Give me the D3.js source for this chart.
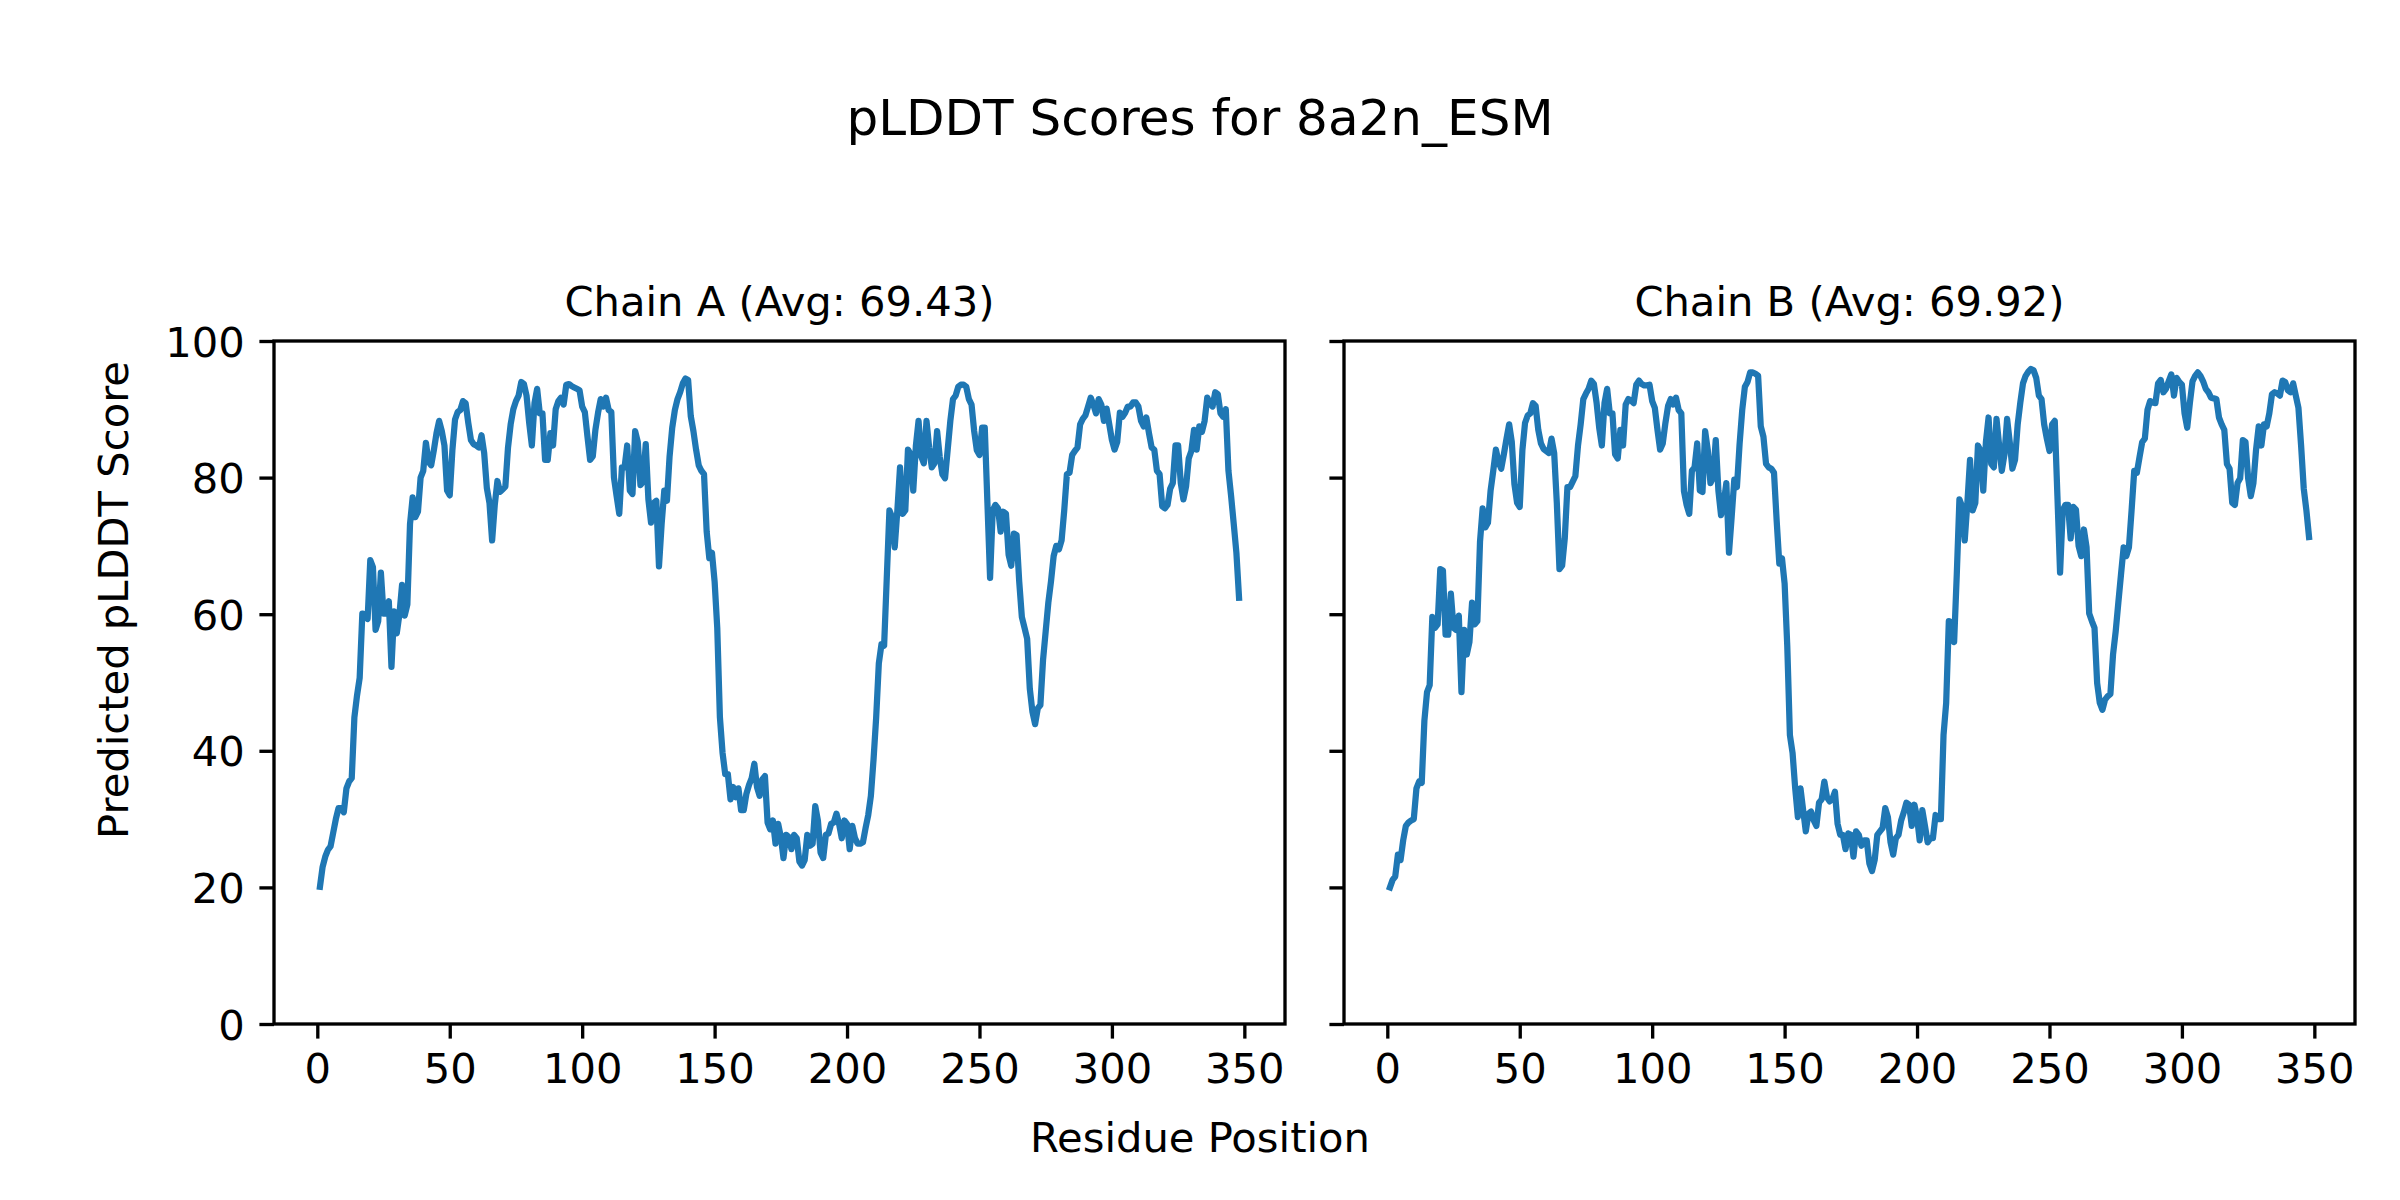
<!DOCTYPE html>
<html>
<head>
<meta charset="utf-8">
<script src="https://cdn.jsdelivr.net/npm/d3@7"></script>
<style>
  html, body { margin: 0; padding: 0; background: #fff; }
  svg text { font-family: "DejaVu Sans", sans-serif; fill: #000; }
</style>
</head>
<body>
<svg id="chart" width="2400" height="1200"></svg>
<script>
// ---- data ----
const chainA = [
20.1,23.0,24.5,25.5,26.0,28.0,30.0,31.6,31.6,31.0,
34.5,35.5,36.0,44.9,48.1,50.7,60.1,60.0,59.3,67.9,
66.9,57.7,59.0,66.1,60.1,60.1,61.9,52.3,60.4,57.2,
60.0,64.3,59.8,61.4,73.2,77.1,74.2,75.0,80.0,81.0,
85.1,82.3,81.8,84.0,86.5,88.3,86.8,84.7,78.1,77.4,
84.0,88.5,89.6,89.9,91.2,90.9,88.0,85.5,84.9,84.7,
84.4,86.2,83.6,78.5,76.3,70.8,76.0,79.5,77.9,78.3,
78.7,84.4,87.8,90.0,91.2,92.0,94.0,93.7,92.0,88.0,
84.7,90.9,93.0,89.4,89.4,82.6,82.6,86.5,84.7,90.0,
91.2,91.7,90.7,93.6,93.7,93.4,93.2,93.0,92.8,90.4,
89.6,86.0,82.6,83.1,87.0,89.5,91.5,90.4,91.7,89.9,
89.6,80.0,77.3,74.7,81.5,81.5,84.7,78.1,77.6,86.8,
85.2,78.9,79.4,84.9,76.8,73.4,76.3,76.6,67.0,73.2,
78.1,76.6,83.1,87.3,89.9,91.5,92.5,93.8,94.5,94.3,
89.0,86.8,84.1,81.8,81.0,80.5,72.1,68.2,69.0,64.8,
58.0,44.9,39.7,36.6,36.6,32.9,34.7,33.2,34.5,31.3,
31.3,33.7,35.0,36.0,38.1,34.7,33.4,35.8,36.3,29.5,
28.5,29.8,26.4,29.3,27.4,24.3,27.7,27.4,25.6,27.7,
27.2,23.8,23.2,24.0,27.7,26.1,26.4,31.9,29.8,25.1,
24.3,27.7,27.9,29.3,29.5,30.8,29.3,27.2,29.8,29.3,
25.6,29.0,27.2,26.4,26.4,26.6,28.7,30.6,33.4,38.7,
44.9,52.8,55.6,55.4,65.3,75.2,74.2,69.8,75.2,81.5,
74.7,75.2,84.1,83.4,78.1,84.7,88.3,83.1,82.1,88.3,
84.4,81.5,82.1,86.8,83.0,80.5,79.9,84.1,88.3,91.5,
92.0,93.3,93.6,93.6,93.3,91.5,90.7,86.8,84.0,83.3,
87.3,87.3,76.3,65.3,75.2,76.0,75.5,72.1,75.0,74.7,
68.7,67.1,71.8,71.6,64.8,59.6,58.0,56.4,49.1,45.7,
43.9,46.2,46.7,53.3,57.5,61.7,64.8,68.5,70.0,69.5,
70.8,75.2,80.5,80.7,83.3,83.9,84.4,87.8,88.6,89.1,
90.4,91.7,90.7,89.4,91.5,90.7,88.3,90.1,87.8,85.5,
84.1,85.2,89.5,88.9,89.5,90.4,90.4,91.0,91.0,90.4,
88.3,87.5,88.8,86.5,84.4,84.1,81.0,80.5,75.8,75.5,
76.0,78.4,79.2,84.7,84.7,79.2,76.8,78.7,82.8,83.9,
87.0,84.1,87.5,86.7,88.3,91.7,90.9,90.4,92.5,92.2,
89.4,88.9,90.0,81.0,77.3,73.2,69.0,62.4
];
const chainB = [
20.0,21.1,21.6,24.8,24.0,26.9,29.0,29.5,29.8,30.0,
34.5,35.5,35.3,44.4,48.6,49.6,59.6,58.0,58.5,66.6,
66.4,57.0,57.0,63.0,58.0,57.7,59.8,48.6,57.7,54.1,
55.9,61.7,58.5,59.0,70.6,75.5,72.7,73.4,78.1,81.0,
84.1,82.3,81.3,83.4,85.7,87.8,85.2,79.0,76.3,75.7,
84.0,88.0,89.1,89.4,90.9,90.5,87.0,85.0,84.2,83.9,
83.6,85.7,83.6,76.3,66.6,67.1,71.1,78.6,78.6,79.4,
80.2,84.7,87.8,91.5,92.3,93.0,94.2,93.7,91.0,87.3,
84.7,90.9,93.0,89.4,89.4,83.4,82.8,87.0,84.7,90.7,
91.5,91.3,90.9,93.6,94.2,93.7,93.5,93.5,93.6,91.2,
90.2,87.0,84.1,85.0,88.0,90.5,91.5,90.7,91.7,89.9,
89.4,78.0,76.0,74.7,81.0,81.5,85.0,78.1,77.9,86.8,
84.0,79.2,80.0,85.5,78.1,74.5,76.3,79.2,69.0,74.2,
79.7,78.6,84.9,89.9,93.3,94.0,95.4,95.4,95.2,94.9,
87.5,86.0,82.0,81.5,81.3,80.7,73.7,67.4,68.2,64.5,
55.4,42.3,39.7,34.5,30.3,34.5,31.3,28.2,30.8,31.1,
29.8,29.0,32.4,32.9,35.5,33.2,32.6,32.9,34.0,29.3,
27.7,27.7,25.6,27.9,27.7,24.5,28.2,27.7,26.1,26.9,
26.9,23.5,22.4,24.0,27.7,28.2,28.7,31.6,30.3,26.6,
24.8,27.2,27.7,29.8,31.0,32.4,32.1,29.0,32.1,30.3,
26.9,31.3,29.0,26.6,27.2,27.2,30.6,30.0,30.0,42.3,
47.0,59.0,58.8,55.9,65.8,76.8,75.8,70.8,76.3,82.6,
75.2,76.3,84.7,83.9,78.1,85.2,88.8,82.0,81.5,88.6,
84.7,81.0,83.4,88.6,85.2,81.3,82.6,87.8,91.0,93.8,
94.9,95.5,95.9,95.7,94.6,92.0,91.5,87.8,85.7,83.9,
87.8,88.3,77.3,66.1,75.2,76.0,76.0,71.1,75.7,75.3,
70.0,68.5,72.4,69.8,60.1,59.0,58.0,49.9,47.0,46.0,
47.5,48.0,48.3,54.1,57.5,61.7,65.8,69.8,68.5,69.8,
75.2,81.0,80.7,83.0,85.2,85.7,89.9,91.2,91.0,90.9,
93.8,94.3,92.5,93.0,94.1,95.1,92.0,94.6,94.0,93.6,
89.4,87.3,90.9,94.1,94.9,95.4,94.9,94.1,93.0,92.5,
91.7,91.6,91.5,88.8,87.8,87.0,82.0,81.3,76.3,76.0,
79.2,79.9,85.5,85.2,79.9,77.3,79.2,84.1,87.5,84.7,
87.8,87.5,89.4,92.2,92.5,92.3,92.0,94.2,94.0,92.8,
92.5,93.8,92.0,90.2,84.7,78.4,75.2,71.3
];
const chainNames = ["Chain A", "Chain B"];
const chainAvgs = ["69.43", "69.92"];
const xTicks = [0, 50, 100, 150, 200, 250, 300, 350];
const yTicks = [0, 20, 40, 60, 80, 100];
const figTitle = "pLDDT Scores for 8a2n_ESM";
const xLabel = "Residue Position";
const yLabel = "Predicted pLDDT Score";

// ---- layout ----
const svg = d3.select("#chart");
const FS = 41.67;          // 10pt @ 300dpi
const lw = 3.33;           // 0.8pt
const tickLen = 14.6;
const pad = 14.6;
const plotTop = 341, plotBottom = 1024;
const panels = [
  {x0: 274, x1: 1285, data: chainA},
  {x0: 1344, x1: 2355, data: chainB}
];

svg.append("rect").attr("width", 2400).attr("height", 1200).attr("fill", "#fff");

svg.append("text").attr("x", 1200).attr("y", 135).attr("text-anchor", "middle")
  .style("font-size", "50px").text(figTitle);

svg.append("text").attr("x", 1200).attr("y", 1152).attr("text-anchor", "middle")
  .style("font-size", FS + "px").text(xLabel);

svg.append("text").attr("transform", "translate(128,600) rotate(-90)")
  .attr("text-anchor", "middle").style("font-size", FS + "px").text(yLabel);

panels.forEach((p, i) => {
  const n = p.data.length;
  const span = (n - 1) * 0.05;
  const x = d3.scaleLinear().domain([1 - span, n + span]).range([p.x0, p.x1]);
  const y = d3.scaleLinear().domain([0, 100]).range([plotBottom, plotTop]);
  const g = svg.append("g");

  // line
  const line = d3.line().x((d, j) => x(j + 1)).y(d => y(d));
  g.append("path").datum(p.data).attr("d", line)
    .attr("fill", "none").attr("stroke", "#1f77b4").attr("stroke-width", 6.25)
    .attr("stroke-linejoin", "round").attr("stroke-linecap", "square");

  // x axis
  const xa = g.append("g").attr("transform", `translate(0,${plotBottom})`)
    .call(d3.axisBottom(x).tickValues(xTicks).tickSize(tickLen).tickPadding(pad).tickFormat(d3.format("d")));
  xa.select(".domain").remove();
  xa.selectAll(".tick line").attr("stroke", "#000").attr("stroke-width", lw);
  xa.selectAll(".tick text").attr("dy", null).attr("y", tickLen + pad + 30)
    .style("font-size", FS + "px").style("font-family", "DejaVu Sans");

  // y axis
  const ya = g.append("g").attr("transform", `translate(${p.x0},0)`)
    .call(d3.axisLeft(y).tickValues(yTicks).tickSize(tickLen).tickPadding(pad).tickFormat(d3.format("d")));
  ya.select(".domain").remove();
  ya.selectAll(".tick line").attr("stroke", "#000").attr("stroke-width", lw);
  ya.selectAll(".tick text").attr("dy", "0.36em")
    .style("font-size", FS + "px").style("font-family", "DejaVu Sans");
  if (i > 0) ya.selectAll(".tick text").remove();

  // frame
  g.append("rect").attr("x", p.x0).attr("y", plotTop)
    .attr("width", p.x1 - p.x0).attr("height", plotBottom - plotTop)
    .attr("fill", "none").attr("stroke", "#000").attr("stroke-width", lw)
    .attr("stroke-linejoin", "miter");

  // subplot title
  g.append("text").attr("x", (p.x0 + p.x1) / 2).attr("y", plotTop - 25)
    .attr("text-anchor", "middle").style("font-size", FS + "px")
    .text(`${chainNames[i]} (Avg: ${chainAvgs[i]})`);
});
</script>
</body>
</html>
